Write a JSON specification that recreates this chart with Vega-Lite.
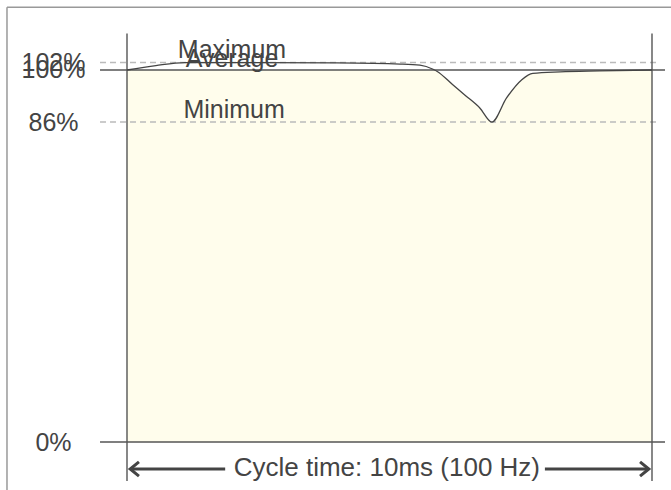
{
  "$schema": "https://vega.github.io/schema/vega-lite/v6.json",
  "autosize": {"type": "none"},
  "padding": {"left": 100, "top": 0, "right": 0, "bottom": 0},
  "width": 571,
  "height": 490,
  "background": "white",
  "config": {"view": {"stroke": null}, "font": "Liberation Sans"},
  "datasets": {
    "curve": [
      {"t": 0, "v": 100, "f": 100},
      {"t": 0.55, "v": 101.2, "f": 100},
      {"t": 1.1, "v": 102, "f": 100},
      {"t": 2.3, "v": 102, "f": 100},
      {"t": 4.0, "v": 101.9, "f": 100},
      {"t": 5.2, "v": 101.6, "f": 100},
      {"t": 5.58, "v": 101.3, "f": 100},
      {"t": 5.83, "v": 100.2, "f": 100},
      {"t": 5.91, "v": 99.6, "f": 99.6},
      {"t": 6.2, "v": 96.1, "f": 96.1},
      {"t": 6.45, "v": 93.1, "f": 93.1},
      {"t": 6.72, "v": 89.8, "f": 89.8},
      {"t": 6.95, "v": 86, "f": 86},
      {"t": 7.23, "v": 92.5, "f": 92.5},
      {"t": 7.52, "v": 97.4, "f": 97.4},
      {"t": 7.73, "v": 99.1, "f": 99.1},
      {"t": 8.25, "v": 99.5, "f": 99.5},
      {"t": 9.0, "v": 99.75, "f": 99.75},
      {"t": 10, "v": 100, "f": 100}
    ],
    "frame": [
      {"t": -2.286, "t2": 10.362, "v": 116.85, "v2": 116.85},
      {"t": -2.286, "t2": -2.286, "v": 116.85, "v2": -12.9}
    ],
    "solid": [
      {"t": -0.514, "t2": 10.248, "v": 100, "v2": 100},
      {"t": -0.514, "t2": 10.248, "v": 0, "v2": 0},
      {"t": 0, "t2": 0, "v": 109.8, "v2": -10.5},
      {"t": 10, "t2": 10, "v": 109.8, "v2": -10.5}
    ],
    "dashed": [
      {"t": -0.514, "t2": 10.152, "v": 102, "v2": 102},
      {"t": -0.514, "t2": 10.152, "v": 86, "v2": 86}
    ],
    "arrow": [
      {"t": 0.06, "t2": 1.87, "v": -7.26, "v2": -7.26},
      {"t": 7.96, "t2": 9.94, "v": -7.26, "v2": -7.26}
    ],
    "heads": [
      {"t": 0.06, "v": -7.26, "dir": "left"},
      {"t": 9.94, "v": -7.26, "dir": "right"}
    ],
    "labels": [
      {"t": 2.0, "v": 103.2, "text": "Maximum"},
      {"t": 2.0, "v": 100.8, "text": "Average"},
      {"t": 2.04, "v": 87.1, "text": "Minimum"}
    ],
    "caption": [
      {"t": 4.95, "v": -7.0, "text": "Cycle time: 10ms (100 Hz)"}
    ]
  },
  "encoding": {
    "x": {"field": "t", "type": "quantitative", "scale": {"domain": [-0.5143, 10.3619], "nice": false, "zero": false}, "axis": null},
    "y": {"field": "v", "type": "quantitative", "scale": {"domain": [-12.903, 118.817], "nice": false, "zero": false}, "axis": {"values": [0, 86, 100, 102], "labelExpr": "datum.value + '%'", "domain": false, "ticks": false, "grid": false, "title": null, "labelFontSize": 25, "labelColor": "#444444", "labelAlign": "center", "labelBaseline": "middle", "labelPadding": 47, "labelFont": "Liberation Sans", "labelOverlap": false}}
  },
  "layer": [
    {
      "data": {"name": "curve"},
      "mark": {"type": "area", "interpolate": "monotone", "color": "#fffdec"},
      "encoding": {"y": {"field": "f", "type": "quantitative"}, "y2": {"datum": 0}}
    },
    {
      "data": {"name": "frame"},
      "mark": {"type": "rule", "color": "#999999", "strokeWidth": 1.5},
      "encoding": {"x2": {"field": "t2"}, "y2": {"field": "v2"}}
    },
    {
      "data": {"name": "dashed"},
      "mark": {"type": "rule", "color": "#bbbbbb", "strokeWidth": 1.5, "strokeDash": [6, 4]},
      "encoding": {"x2": {"field": "t2"}, "y2": {"field": "v2"}}
    },
    {
      "data": {"name": "solid"},
      "mark": {"type": "rule", "color": "#555555", "strokeWidth": 1.4},
      "encoding": {"x2": {"field": "t2"}, "y2": {"field": "v2"}}
    },
    {
      "data": {"name": "curve"},
      "mark": {"type": "line", "interpolate": "monotone", "color": "#444444", "strokeWidth": 1.3},
      "encoding": {}
    },
    {
      "data": {"name": "arrow"},
      "mark": {"type": "rule", "color": "#444444", "strokeWidth": 3},
      "encoding": {"x2": {"field": "t2"}, "y2": {"field": "v2"}}
    },
    {
      "data": {"name": "heads"},
      "mark": {"type": "point", "filled": false, "stroke": "#444444", "strokeWidth": 3, "size": 256, "opacity": 1},
      "encoding": {"shape": {"field": "dir", "type": "nominal", "scale": {"domain": ["left", "right"], "range": ["M 1.1 -0.9 L 0 0 L 1.1 0.9", "M -1.1 -0.9 L 0 0 L -1.1 0.9"]}, "legend": null}}
    },
    {
      "data": {"name": "labels"},
      "mark": {"type": "text", "fontSize": 25, "color": "#444444", "align": "center", "baseline": "alphabetic", "font": "Liberation Sans"},
      "encoding": {"text": {"field": "text"}}
    },
    {
      "data": {"name": "caption"},
      "mark": {"type": "text", "fontSize": 26, "color": "#444444", "align": "center", "baseline": "middle", "font": "Liberation Sans"},
      "encoding": {"text": {"field": "text"}}
    }
  ]
}
